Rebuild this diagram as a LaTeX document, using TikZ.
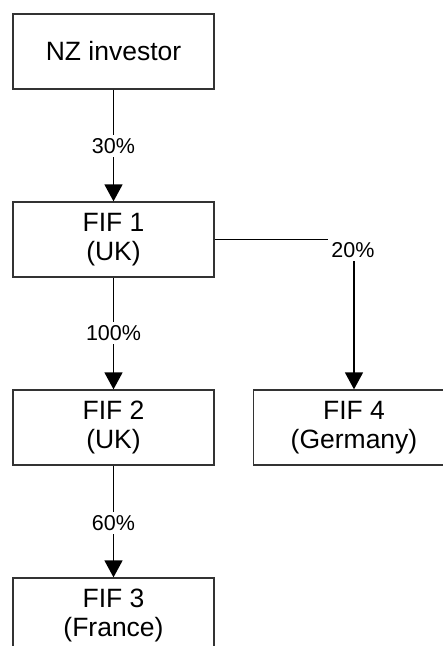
\documentclass[tikz,border=0pt]{standalone}
\usepackage{fontspec}
\setmainfont{Liberation Sans}
\usetikzlibrary{arrows.meta,calc}
\begin{document}
\begin{tikzpicture}[x=1pt,y=1pt,
 box/.style={draw=black!80, line width=1.3pt, minimum width=201pt, minimum height=75pt, align=center, font=\fontsize{26.5}{29.5}\selectfont, inner sep=0pt},
 lbl/.style={fill=white, font=\fontsize{21.5}{24}\selectfont, inner sep=3pt},
 conn/.style={line width=1.6pt, -{Triangle[width=18pt,length=17pt]}}]
\useasboundingbox (0,0) rectangle (443,-646);
\node[box] (nz) at (113.5,-51.5) {NZ investor};
\node[box] (f1) at (113.5,-239.5) {FIF 1\\(UK)};
\node[box] (f2) at (113.5,-427.5) {FIF 2\\(UK)};
\node[box] (f4) at (354,-427.5) {FIF 4\\(Germany)};
\node[box] (f3) at (113.5,-615.5) {FIF 3\\(France)};
\coordinate (corner) at (354,-239.5);
\draw[conn] (nz) -- (f1);
\draw[conn] (f1) -- (f2);
\draw[conn] (f2) -- (f3);
\draw[conn] (f1.east) -- (corner) -- (f4.north);
\node[lbl] at (113.5,-146) {30\%};
\node[lbl] at (113.5,-333) {100\%};
\node[lbl] at (113.5,-523) {60\%};
\node[lbl] at (353,-250) {20\%};
\end{tikzpicture}
\end{document}
